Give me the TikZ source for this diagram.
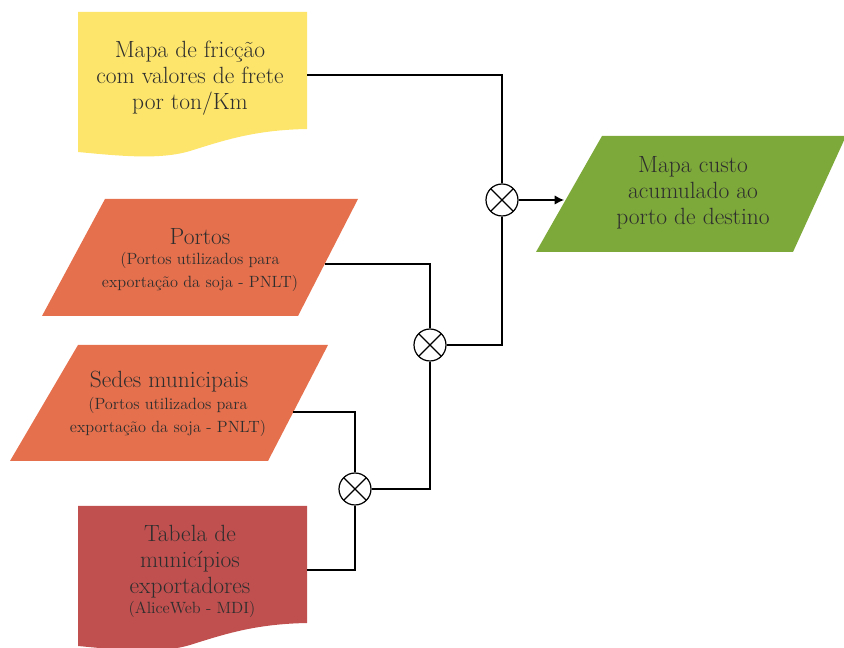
\documentclass[tikz,border=0pt]{standalone}
\usepackage{tikz}
\usetikzlibrary{arrows.meta, positioning}

\definecolor{mapyellow}{HTML}{FDE56B}
\definecolor{mapgreen}{HTML}{7DA83A}
\definecolor{maporange}{HTML}{E5704D}
\definecolor{mapred}{HTML}{C0504F}
\definecolor{txt}{HTML}{2E2E2E}

\newcommand{\bigtxt}{\fontsize{17.6}{19.5}\selectfont}
\newcommand{\smalltxt}{\fontsize{12.2}{17}\selectfont}

\begin{document}
\begin{tikzpicture}[
    x=0.75pt, y=-0.75pt,
    boxtxt/.style={align=center, text=txt, font=\bigtxt, inner sep=0pt},
    xcirc/.style={circle, draw, line width=0.9pt, minimum size=24pt, inner sep=0pt,
        path picture={\draw[line width=0.9pt] (path picture bounding box.north west) -- (path picture bounding box.south east)
            (path picture bounding box.north east) -- (path picture bounding box.south west);}},
    wire/.style={line width=0.9pt},
    arrow/.style={-{Latex[length=7pt,width=7pt]}, line width=0.9pt}
]
    \useasboundingbox (0,0) rectangle (844,648);

    \fill[mapyellow] (78,12) -- (307,12) -- (307,129) .. controls (255,130) and (225,140) .. (190,151)
        .. controls (160,160) and (120,156) .. (78,152) -- cycle;
    \fill[mapred] (78,506) -- (307,506) -- (307,623) .. controls (255,624) and (225,634) .. (190,645)
        .. controls (160,654) and (120,650) .. (78,646) -- cycle;
    \fill[mapgreen] (602,136) -- (846,136) -- (793,252) -- (536,252) -- cycle;
    \fill[maporange] (105,199) -- (358,199) -- (298,316) -- (42,316) -- cycle;
    \fill[maporange] (78,345) -- (328,345) -- (268,461) -- (10,461) -- cycle;

    \node[boxtxt] (mapa) at (190,78) {Mapa de fricção\\com valores de frete\\por ton/Km};
    \node[boxtxt] (custo) at (693,193) {Mapa custo\\acumulado ao\\porto de destino};
    \node[boxtxt] (portos) at (200,237) {Portos};
    \node[boxtxt, font=\smalltxt] (portossub) at (200,272) {(Portos utilizados para\\exportação da soja - PNLT)};
    \node[boxtxt] (sedes) at (169,382) {Sedes municipais};
    \node[boxtxt, font=\smalltxt] (sedessub) at (168,417) {(Portos utilizados para\\exportação da soja - PNLT)};
    \node[boxtxt] (tabela) at (190,562) {Tabela de\\municípios\\exportadores};
    \node[boxtxt, font=\smalltxt] (tabelasub) at (192,609) {(AliceWeb - MDI)};

    \coordinate (mapa-e) at (307,75);
    \coordinate (custo-w) at (564,200);
    \coordinate (portos-e) at (325,264);
    \coordinate (sedes-e) at (293,412);
    \coordinate (tabela-e) at (307,570);

    \node[xcirc] (m1) at (502,200) {};
    \node[xcirc] (m2) at (430,345) {};
    \node[xcirc] (m3) at (355,489) {};

    \draw[wire] (mapa-e) -| (m1);
    \draw[arrow] (m1) -- (custo-w);
    \draw[wire] (m1) |- (m2);
    \draw[wire] (portos-e) -| (m2);
    \draw[wire] (m2) |- (m3);
    \draw[wire] (sedes-e) -| (m3);
    \draw[wire] (tabela-e) -| (m3);
\end{tikzpicture}
\end{document}
